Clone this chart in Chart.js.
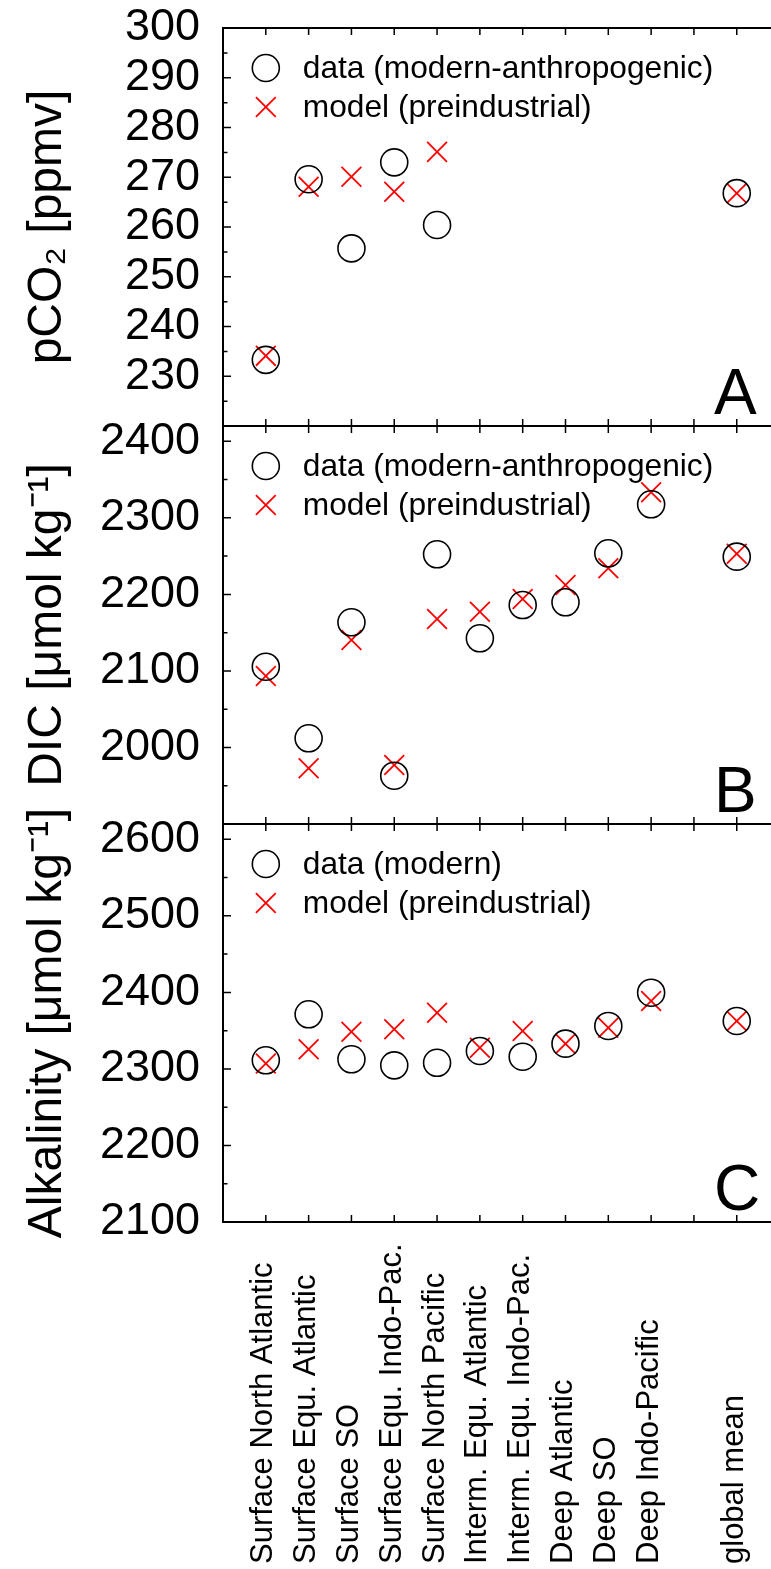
<!DOCTYPE html>
<html>
<head>
<meta charset="utf-8">
<script src="https://cdn.jsdelivr.net/npm/chart.js@4.4.1/dist/chart.umd.min.js"></script>
<style>
  html, body { margin: 0; padding: 0; background: #fff; overflow: hidden; }
  #wrap { width: 771px; height: 1569px; }
</style>
</head>
<body>
<div id="wrap"><canvas id="chart" width="771" height="1569"></canvas></div>
<script>
// regions along the x axis (index 10 is an empty slot before the global mean)
const regions = [
    "Surface North Atlantic", "Surface Equ. Atlantic", "Surface SO",
    "Surface Equ. Indo-Pac.", "Surface North Pacific", "Interm. Equ. Atlantic",
    "Interm. Equ. Indo-Pac.", "Deep Atlantic", "Deep SO", "Deep Indo-Pacific",
    "", "global mean"
];

// panel A: pCO2 [ppmv]
const pco2Data  = [233.3, 269.6, 255.7, 273.0, 260.4, null, null, null, null, null, null, 266.8];
const pco2Model = [234.1, 268.1, 270.1, 267.1, 275.1, null, null, null, null, null, null, 266.8];

// panel B: DIC [umol/kg]
const dicData  = [2105.5, 2012.0, 2163.5, 1963.1, 2252.4, 2142.6, 2186.1, 2189.7, 2253.7, 2317.7, null, 2249.3];
const dicModel = [2093.4, 1972.8, 2140.4, 1977.1, 2167.8, 2177.4, 2193.9, 2212.3, 2234.1, 2333.4, null, 2253.0];

// panel C: alkalinity [umol/kg]
const alkData  = [2311.3, 2371.4, 2312.6, 2304.7, 2308.0, 2323.4, 2316.0, 2333.0, 2356.1, 2399.6, null, 2362.6];
const alkModel = [2307.0, 2325.6, 2348.6, 2351.8, 2373.5, 2327.7, 2349.6, 2333.0, 2353.9, 2388.7, null, 2362.6];

const panelIds = ["yA", "yB", "yC"];
const panelLetters = ["A", "B", "C"];
const yMin = [220, 1900, 2100];
const yMax = [300, 2420, 2620];
const yMinor = [5, 50, 50];
const yMajor = [10, 100, 100];
const yHidden = [220, 1900, null];
const yTitles = ["pCO\u2082 [ppmv]", "DIC [\u03bcmol kg\u207b\u00b9]", "Alkalinity [\u03bcmol kg\u207b\u00b9]"];

const FONT = "'Liberation Sans', Arial, Helvetica, sans-serif";
Chart.defaults.font.family = FONT;
Chart.defaults.color = "#000";

function toPoints(values) {
    return values.map((v, i) => ({ x: i, y: v })).filter((p) => p.y !== null);
}

function circleSet(label, values, axis) {
    return {
        label: label,
        data: toPoints(values),
        yAxisID: axis,
        showLine: false,
        pointStyle: "circle",
        pointRadius: 13.5,
        pointBorderWidth: 1.6,
        pointBorderColor: "#000",
        pointBackgroundColor: "rgba(0,0,0,0)",
        borderColor: "#000",
        backgroundColor: "rgba(0,0,0,0)"
    };
}

function crossSet(label, values, axis) {
    return {
        label: label,
        data: toPoints(values),
        yAxisID: axis,
        showLine: false,
        pointStyle: "crossRot",
        pointRadius: 14,
        pointBorderWidth: 1.8,
        pointBorderColor: "#ff0000",
        pointBackgroundColor: "#ff0000",
        borderColor: "#ff0000",
        backgroundColor: "#ff0000"
    };
}

// no extra layout padding from tick labels, the frame is placed by hand
function noPadding(scale) {
    scale.paddingTop = 0;
    scale.paddingBottom = 0;
    scale.paddingLeft = 0;
    scale.paddingRight = 0;
}

function yScale(k) {
    return {
        type: "linear",
        position: "left",
        stack: "panels",
        stackWeight: 1,
        weight: 3 - k,
        min: yMin[k],
        max: yMax[k],
        afterFit: (scale) => { scale.width = 223; noPadding(scale); },
        grid: { display: false, drawTicks: false },
        border: { display: true, color: "#000", width: 2 },
        ticks: {
            stepSize: yMinor[k],
            includeBounds: false,
            autoSkip: false,
            padding: 23,
            font: { size: 45 },
            color: "#000",
            callback: (v) => (v % yMajor[k] === 0 && v !== yHidden[k]) ? String(v) : ""
        },
        title: {
            display: true,
            text: yTitles[k],
            font: { size: 48, lineHeight: 1 },
            color: "#000",
            padding: { top: 24, bottom: 0 }
        }
    };
}

// frame lines, inward tick marks, legends, panel letters and rotated region labels
const panelDecor = {
    id: "panelDecor",
    afterDraw(chart) {
        const ctx = chart.ctx;
        const area = chart.chartArea;
        const xs = chart.scales.x;
        const helpers = Chart.helpers;

        panelIds.forEach((id, k) => {
            const ys = chart.scales[id];
            const top = ys.top;
            const bottom = ys.bottom;
            ctx.save();
            ctx.strokeStyle = "#000";
            ctx.lineWidth = 2;
            ctx.beginPath();
            ctx.moveTo(area.left - 1, top);
            ctx.lineTo(area.right, top);
            ctx.stroke();

            ctx.lineWidth = 1.5;
            ctx.beginPath();
            regions.forEach((_, i) => {
                const px = xs.getPixelForValue(i);
                ctx.moveTo(px, top);
                ctx.lineTo(px, top + 7);
                ctx.moveTo(px, bottom);
                ctx.lineTo(px, bottom - 7);
            });
            ys.ticks.forEach((t) => {
                const r = t.value / yMinor[k];
                if (Math.abs(r - Math.round(r)) > 1e-6) return;
                const len = (t.value % yMajor[k] === 0) ? 8 : 4.5;
                const py = ys.getPixelForValue(t.value);
                ctx.moveTo(area.left, py);
                ctx.lineTo(area.left + len, py);
            });
            ctx.stroke();

            // legend inside the panel
            const metas = chart.getSortedVisibleDatasetMetas().filter((m) => m.yAxisID === id);
            const lx = xs.getPixelForValue(0);
            metas.forEach((meta, j) => {
                const ds = chart.data.datasets[meta.index];
                const ly = top + 40 + j * 39;
                ctx.strokeStyle = ds.pointBorderColor;
                ctx.fillStyle = "rgba(0,0,0,0)";
                ctx.lineWidth = ds.pointBorderWidth;
                helpers.drawPoint(ctx, {
                    pointStyle: ds.pointStyle,
                    radius: ds.pointRadius,
                    borderWidth: ds.pointBorderWidth,
                    rotation: 0
                }, lx, ly);
                ctx.fillStyle = "#000";
                ctx.font = "31.7px " + FONT;
                ctx.textAlign = "left";
                ctx.textBaseline = "middle";
                ctx.fillText(ds.label, lx + 37, ly + 1);
            });

            // panel letter
            ctx.fillStyle = "#000";
            ctx.font = "64px " + FONT;
            ctx.textAlign = "left";
            ctx.textBaseline = "alphabetic";
            ctx.fillText(panelLetters[k], 714, bottom - 12);
            ctx.restore();
        });

        // rotated region labels, starting at the bottom of the figure
        ctx.save();
        ctx.fillStyle = "#000";
        ctx.font = "31px " + FONT;
        ctx.textAlign = "left";
        ctx.textBaseline = "middle";
        regions.forEach((name, i) => {
            if (!name) return;
            const px = xs.getPixelForValue(i);
            ctx.save();
            ctx.translate(px - 2, chart.height - 5);
            ctx.rotate(-Math.PI / 2);
            ctx.fillText(name, 0, 0);
            ctx.restore();
        });
        ctx.restore();
    }
};

new Chart(document.getElementById("chart"), {
    type: "scatter",
    data: {
        datasets: [
            circleSet("data (modern-anthropogenic)", pco2Data, "yA"),
            crossSet("model (preindustrial)", pco2Model, "yA"),
            circleSet("data (modern-anthropogenic)", dicData, "yB"),
            crossSet("model (preindustrial)", dicModel, "yB"),
            circleSet("data (modern)", alkData, "yC"),
            crossSet("model (preindustrial)", alkModel, "yC")
        ]
    },
    options: {
        responsive: false,
        animation: false,
        events: [],
        layout: { autoPadding: false, padding: { top: 28, right: 0, left: 0, bottom: 0 } },
        plugins: {
            legend: { display: false },
            tooltip: { enabled: false }
        },
        scales: {
            x: {
                type: "linear",
                position: "bottom",
                min: -1,
                max: 11.8,
                afterFit: (scale) => { scale.height = 347; noPadding(scale); },
                grid: { display: false, drawTicks: false },
                border: { display: true, color: "#000", width: 2 },
                ticks: { display: false, stepSize: 1 }
            },
            yA: yScale(0),
            yB: yScale(1),
            yC: yScale(2)
        }
    },
    plugins: [panelDecor]
});
</script>
</body>
</html>
